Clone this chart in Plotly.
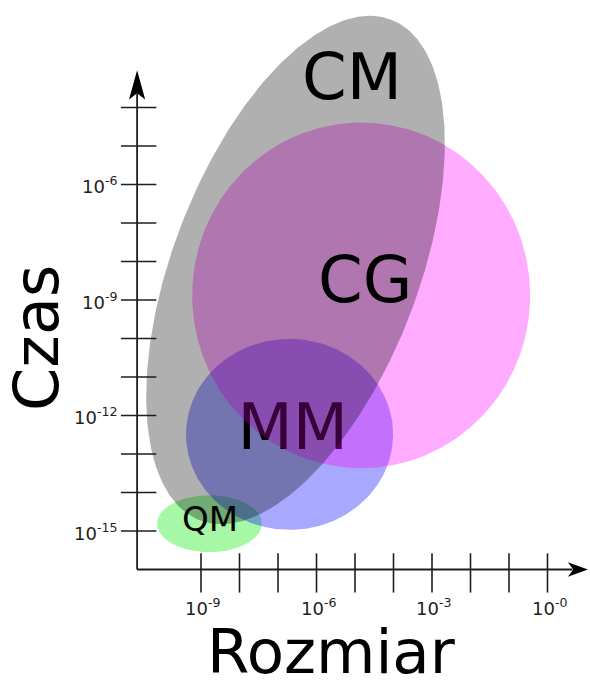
import numpy as np
import plotly.graph_objects as go

# Scales are log10 of size [m] (x) and log10 of time [s] (y)
size_ticks = list(range(-9, 1))            # 10^-9 ... 10^0 m
size_labels = {-9: "10<sup>-9</sup>", -6: "10<sup>-6</sup>",
               -3: "10<sup>-3</sup>", 0: "10<sup>-0</sup>"}
time_ticks = list(range(-15, -3))          # 10^-15 ... 10^-4 s
time_labels = {-15: "10<sup>-15</sup>", -12: "10<sup>-12</sup>",
               -9: "10<sup>-9</sup>", -6: "10<sup>-6</sup>"}

# Modelling regimes: ellipse centre, semi-axes and tilt (log10 units)
models = ["QM", "MM", "CG", "CM"]
center_size = [-8.78, -6.70, -4.84, -6.545]
center_time = [-14.81, -12.49, -8.88, -8.22]
semi_a = [1.36, 2.69, 4.39, 6.96]
semi_b = [0.74, 2.48, 4.49, 3.19]
tilt_deg = [0.0, 0.0, 0.0, 69.1]
fills = ["rgba(0,235,0,0.35)", "rgba(0,0,255,0.34)",
         "rgba(255,0,255,0.33)", "rgba(0,0,0,0.31)"]

# Label anchor positions of each regime name
label_size = [-8.77, -6.62, -4.73, -5.08]
label_time = [-14.70, -12.45, -8.47, -3.21]
label_font = [34, 64, 64, 64]

# Axis origin and extents
x_origin, y_origin = -10.66, -16.0
x_end, y_end = 1.05, -3.03

FONT = "DejaVu Sans"
INK = "#1e1e1e"

fig = go.Figure()


def ellipse(i):
    t = np.linspace(0, 2 * np.pi, 361)
    phi = np.radians(tilt_deg[i])
    ux, uy = np.cos(phi), np.sin(phi)
    a, b = semi_a[i], semi_b[i]
    x = center_size[i] + a * np.cos(t) * ux - b * np.sin(t) * uy
    y = center_time[i] + a * np.cos(t) * uy + b * np.sin(t) * ux
    return x, y


def add_region(i):
    x, y = ellipse(i)
    fig.add_trace(go.Scatter(x=x, y=y, mode="lines", fill="toself",
                             fillcolor=fills[i], line=dict(width=0),
                             hoverinfo="skip", showlegend=False))


def add_label_trace(i):
    fig.add_trace(go.Scatter(x=[label_size[i]], y=[label_time[i]], mode="text",
                             text=[models[i]], textposition="middle center",
                             textfont=dict(family=FONT, size=label_font[i], color="black"),
                             hoverinfo="skip", showlegend=False))


# Layering: QM, MM (+ its name), CG, CM
add_region(0)
add_region(1)
add_label_trace(1)
add_region(2)
add_region(3)

annotations = []
for i in (0, 2, 3):
    annotations.append(dict(x=label_size[i], y=label_time[i], text=models[i],
                            showarrow=False, xanchor="center", yanchor="middle",
                            font=dict(family=FONT, size=label_font[i], color="black")))

shapes = []
# axis lines
shapes.append(dict(type="line", x0=x_origin, y0=y_origin, x1=x_end - 0.4, y1=y_origin,
                   line=dict(color=INK, width=1.8)))
shapes.append(dict(type="line", x0=x_origin, y0=y_origin, x1=x_origin, y1=y_end - 0.6,
                   line=dict(color=INK, width=1.8)))
# arrowheads
shapes.append(dict(type="path",
                   path=f"M {x_origin} {y_end} L {x_origin - 0.21} {y_end - 0.76} "
                        f"L {x_origin} {y_end - 0.6} L {x_origin + 0.21} {y_end - 0.76} Z",
                   fillcolor="black", line=dict(width=0)))
shapes.append(dict(type="path",
                   path=f"M {x_end} {y_origin} L {x_end - 0.52} {y_origin + 0.19} "
                        f"L {x_end - 0.38} {y_origin} L {x_end - 0.52} {y_origin - 0.19} Z",
                   fillcolor="black", line=dict(width=0)))
# tick marks crossing the axes
for v in time_ticks:
    shapes.append(dict(type="line", x0=x_origin - 0.42, x1=x_origin + 0.5, y0=v, y1=v,
                       line=dict(color=INK, width=1.6)))
for v in size_ticks:
    shapes.append(dict(type="line", x0=v, x1=v, y0=y_origin + 0.42, y1=y_origin - 0.6,
                       line=dict(color=INK, width=1.6)))

for v, lab in time_labels.items():
    annotations.append(dict(x=x_origin - 0.46, y=v - 0.02, text=lab, showarrow=False,
                            xanchor="right", yanchor="middle",
                            font=dict(family=FONT, size=18, color=INK)))
for v, lab in size_labels.items():
    annotations.append(dict(x=v + 0.05, y=y_origin - 0.97, text=lab, showarrow=False,
                            xanchor="center", yanchor="middle",
                            font=dict(family=FONT, size=18, color=INK)))

# axis titles
annotations.append(dict(x=-13.29, y=-9.99, text="Czas", showarrow=False, textangle=-90,
                        xanchor="center", yanchor="middle",
                        font=dict(family=FONT, size=62, color="black")))
annotations.append(dict(x=-5.62, y=-18.14, text="Rozmiar", showarrow=False,
                        xanchor="center", yanchor="middle",
                        font=dict(family=FONT, size=61, color="black")))

fig.update_layout(
    width=590, height=681,
    margin=dict(l=0, r=0, t=0, b=0),
    paper_bgcolor="white", plot_bgcolor="white",
    xaxis=dict(range=[-14.221, 1.104], visible=False, fixedrange=True),
    yaxis=dict(range=[-18.896, -1.208], visible=False, fixedrange=True),
    shapes=shapes, annotations=annotations,
)

fig.write_html("out.html")
